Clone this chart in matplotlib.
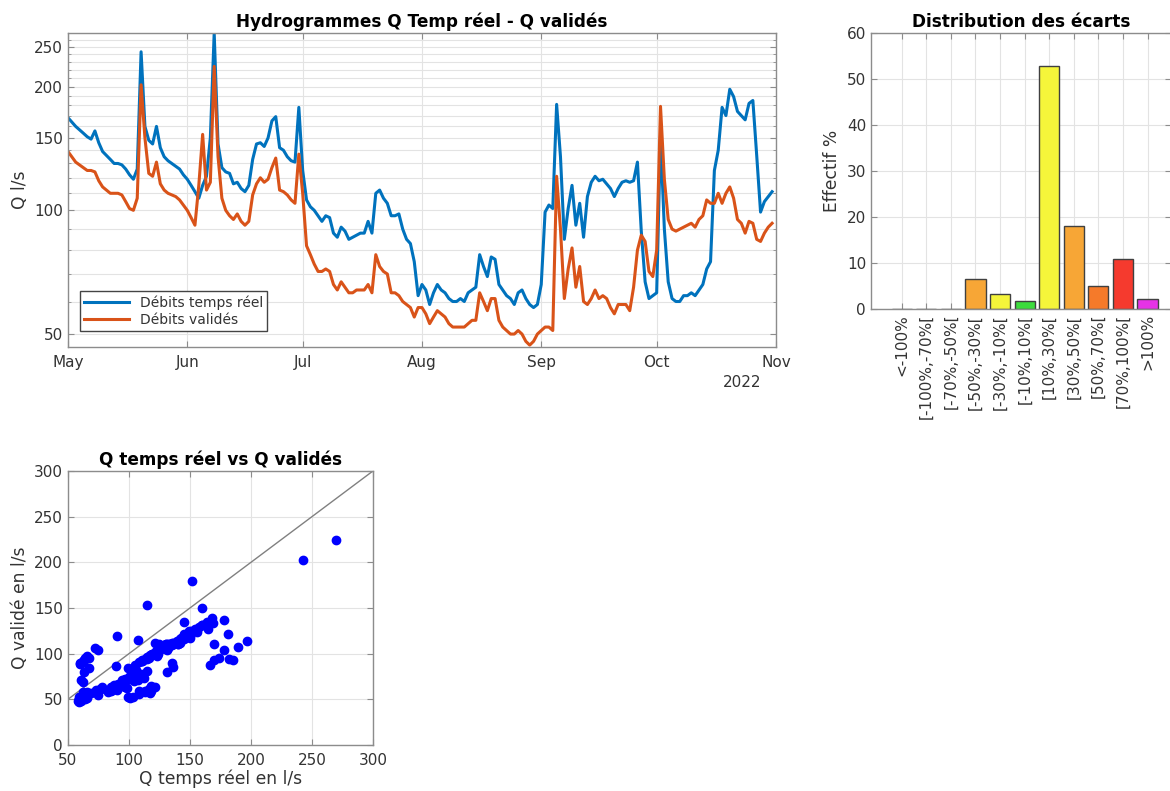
import numpy as np
import pandas as pd
import matplotlib
matplotlib.use("Agg")
import matplotlib.pyplot as plt
import matplotlib.dates as mdates
from matplotlib.ticker import FixedLocator, FixedFormatter, NullFormatter

plt.rcParams['font.family'] = ['DejaVu Sans']

# Débits journaliers du 1er mai au 31 octobre 2022 (l/s)
q_temps_reel = [
    168, 164, 160, 157, 154, 151, 149, 156, 146, 139, 136, 133, 130, 130, 129, 126,
    122, 119, 126, 243, 160, 148, 145, 160, 142, 135, 132, 130, 128, 126, 122,
    119, 115, 111, 107, 115, 121, 150, 270, 145, 127, 124, 123, 116, 117, 113,
    111, 115, 133, 145, 146, 143, 150, 165, 169, 142, 140, 135, 132, 131, 178,
    125, 106, 102, 100, 97, 94, 97, 96, 88, 86, 91, 89, 85, 86, 87, 88,
    88, 94, 88, 110, 112, 107, 104, 97, 97, 98, 90, 85, 83, 75, 62,
    66, 64, 59, 63, 66, 64, 63, 61, 60, 60, 61, 60, 63, 64, 65, 78,
    73, 69, 77, 76, 66, 64, 62, 61, 59, 63, 64, 61, 59, 58, 59,
    66, 99, 103, 101, 181, 135, 85, 101, 115, 92, 104, 86, 108, 117, 121,
    118, 119, 116, 113, 108, 113, 117, 118, 117, 118, 131, 89, 67, 61, 62,
    63, 152, 90, 67, 61, 60, 60, 62, 62, 63, 62, 64, 66, 72, 75, 125,
    140, 178, 170, 197, 189, 174, 170, 166, 182, 185, 136, 99, 105, 108, 111,
]
q_valides = [
    139, 135, 131, 129, 127, 125, 125, 124, 118, 114, 112, 110, 110, 110, 109, 105,
    101, 100, 107, 202, 150, 123, 121, 131, 116, 112, 110, 109, 108, 106, 103,
    100, 96, 92, 115, 153, 112, 117, 224, 135, 107, 100, 97, 95, 98, 94,
    92, 94, 109, 116, 120, 117, 119, 127, 134, 112, 111, 109, 106, 104, 137,
    110, 82, 78, 74, 71, 71, 72, 71, 66, 64, 67, 65, 63, 63, 64, 64,
    64, 66, 63, 78, 73, 71, 70, 63, 63, 62, 60, 59, 58, 55, 58,
    58, 56, 53, 55, 57, 56, 55, 53, 52, 52, 52, 52, 53, 54, 54, 63,
    60, 57, 61, 61, 54, 52, 51, 50, 50, 51, 50, 48, 47, 48, 50,
    51, 52, 52, 51, 121, 90, 61, 72, 81, 65, 73, 60, 59, 61, 64,
    61, 62, 61, 58, 56, 59, 59, 59, 57, 65, 80, 87, 84, 71, 69,
    80, 179, 119, 95, 90, 89, 90, 91, 92, 93, 91, 95, 97, 106, 104, 104,
    110, 104, 110, 114, 107, 95, 93, 88, 94, 93, 85, 84, 88, 91, 93,
]
dates = pd.date_range("2022-05-01", periods=len(q_temps_reel), freq="D")

# Distribution des écarts
classes = ['<-100%', '[-100%,-70%[', '[-70%,-50%[', '[-50%,-30%[', '[-30%,-10%[',
           '[-10%,10%[', '[10%,30%[', '[30%,50%[', '[50%,70%[', '[70%,100%[', '>100%']
effectifs = [0, 0, 0, 6.5, 3.3, 1.7, 52.8, 18.0, 4.9, 10.9, 2.2]
couleurs = ['#E633E6', '#F53A2E', '#F57A2A', '#F7A636', '#F5F53A', '#3CDC3C',
            '#F5F53A', '#F7A636', '#F57A2A', '#F53A2E', '#E633E6']

bleu = '#0072BD'
orange = '#D95319'
gris_txt = '#333333'
gris_axe = '#8C8C8C'
gris_grille = '#E3E3E3'

fs_tick = 11
fs_label = 12.3
fs_titre = 12.2


def style_axes(ax):
    for s in ax.spines.values():
        s.set_color(gris_axe)
        s.set_linewidth(1)
    ax.tick_params(direction='in', top=True, right=True, colors=gris_axe,
                   labelcolor=gris_txt, labelsize=fs_tick, length=4)
    ax.tick_params(which='minor', direction='in', top=True, right=True,
                   colors=gris_axe, length=2.5)
    ax.set_axisbelow(True)


fig = plt.figure(figsize=(11.7, 7.91), dpi=100)

# Hydrogrammes
ax1 = fig.add_axes([0.0581, 0.5613, 0.6051, 0.397])
ax1.plot(dates, q_temps_reel, color=bleu, lw=2.2, label='Débits temps réel')
ax1.plot(dates, q_valides, color=orange, lw=2.2, label='Débits validés')
ax1.set_yscale('log')
ax1.set_ylim(46.5, 270)
ax1.set_xlim(pd.Timestamp("2022-05-01"), pd.Timestamp("2022-11-01"))
ax1.yaxis.set_major_locator(FixedLocator([50, 100, 150, 200, 250]))
ax1.yaxis.set_major_formatter(FixedFormatter(['50', '100', '150', '200', '250']))
ax1.yaxis.set_minor_locator(FixedLocator([v for v in range(50, 271, 10) if v % 50]))
ax1.yaxis.set_minor_formatter(NullFormatter())
ax1.xaxis.set_major_locator(mdates.MonthLocator())
ax1.xaxis.set_major_formatter(mdates.DateFormatter('%b'))
ax1.grid(which='both', color=gris_grille, lw=0.8)
style_axes(ax1)
ax1.tick_params(axis='x', pad=6)
ax1.set_ylabel('Q l/s', fontsize=fs_label, color=gris_txt)
ax1.set_title('Hydrogrammes Q Temp réel - Q validés', fontsize=fs_titre, fontweight='bold', pad=4)
ax1.text(0.952, -0.09, '2022', transform=ax1.transAxes, fontsize=fs_tick,
         color=gris_txt, ha='center', va='top')
leg = ax1.legend(loc='lower left', bbox_to_anchor=(0.017, 0.051), borderaxespad=0,
                 fontsize=10, fancybox=False, framealpha=1, handlelength=3.2,
                 borderpad=0.3, labelspacing=0.2)
leg.get_frame().set_edgecolor('#444444')
for t in leg.get_texts():
    t.set_color(gris_txt)

# Distribution des écarts
ax2 = fig.add_axes([0.7444, 0.6094, 0.2564, 0.349])
x = np.arange(len(classes))
ax2.bar(x, effectifs, width=0.82, color=couleurs, edgecolor='#404040', lw=1)
ax2.set_xlim(-1.25, len(classes) - 0.05)
ax2.set_ylim(0, 60)
ax2.set_yticks(range(0, 61, 10))
ax2.set_xticks(x)
ax2.set_xticklabels(classes, rotation=90)
ax2.grid(color=gris_grille, lw=0.8)
style_axes(ax2)
ax2.set_ylabel('Effectif %', fontsize=fs_label, color=gris_txt)
ax2.set_title('Distribution des écarts', fontsize=fs_titre, fontweight='bold', pad=4)

# Q temps réel vs Q validés
ax3 = fig.add_axes([0.0581, 0.0582, 0.2607, 0.3464])
ax3.plot([50, 300], [50, 300], color='#808080', lw=1)
ax3.plot(q_temps_reel, q_valides, 'o', color='#0000FF', ms=6, mec='#0000FF')
ax3.set_xlim(50, 300)
ax3.set_ylim(0, 300)
ax3.set_xticks(range(50, 301, 50))
ax3.set_yticks(range(0, 301, 50))
ax3.grid(color=gris_grille, lw=0.8)
style_axes(ax3)
ax3.tick_params(axis='x', pad=6)
ax3.set_xlabel('Q temps réel en l/s', fontsize=fs_label, color=gris_txt, labelpad=1)
ax3.set_ylabel('Q validé en l/s', fontsize=fs_label, color=gris_txt)
ax3.set_title('Q temps réel vs Q validés', fontsize=fs_titre, fontweight='bold', pad=4)

fig.savefig('out.png', dpi=100)
